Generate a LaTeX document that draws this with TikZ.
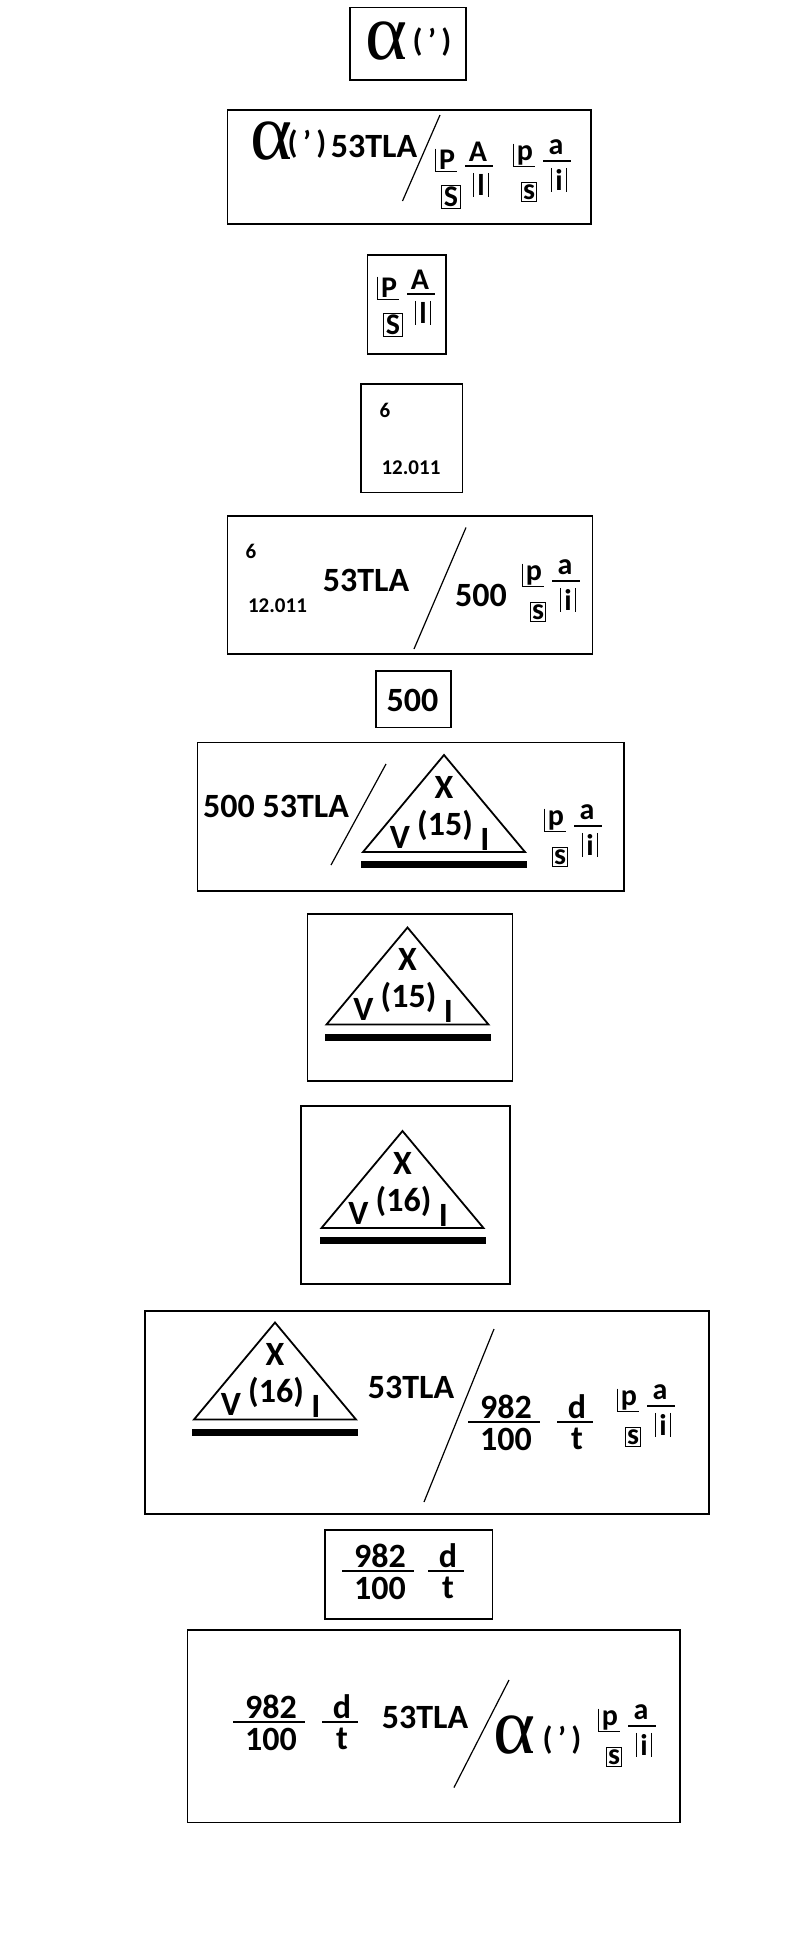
\documentclass[tikz,border=0pt]{standalone}
\usepackage{fontspec}
\setmainfont{Carlito}
\newfontfamily\serif{Liberation Serif}
\begin{document}
\begin{tikzpicture}[x=0.5pt,y=-0.5pt,
  bx/.style={draw,line width=0.8pt},
  t/.style={inner sep=0pt,font=\fontsize{17}{18}\selectfont\bfseries},
  gl/.style={inner sep=0.6pt,font=\fontsize{15}{16}\selectfont\bfseries},
  sm/.style={inner sep=0pt,font=\fontsize{10.5}{12}\selectfont\bfseries},
  al/.style={inner sep=0pt,font=\fontsize{40}{42}\selectfont\serif},
  pr/.style={inner sep=0pt,font=\fontsize{16}{18}\selectfont\bfseries},
  sl/.style={line width=0.6pt}]
\useasboundingbox (0,0) rectangle (800,1960);
\newcommand\mygrp[7]{%
  \node[gl] (#1p) at (#2,#3) {#4};
  \draw[line width=0.5pt] ([xshift=-1pt]#1p.north west) |- (#1p.south east);
  \node[gl,draw,line width=0.5pt,inner sep=1pt] (#1s) at (#2+4,#3+37) {#5};
  \node[gl] (#1a) at (#2+31,#3-8) {#6};
  \draw[line width=0.6pt] (#2+18,#3+6) -- (#2+46,#3+6);
  \node[gl] (#1i) at (#2+34,#3+25) {#7};
  \draw[line width=0.5pt] ([xshift=-1pt]#1i.north west) -- ([xshift=-1pt]#1i.south west)
     ([xshift=1pt]#1i.north east) -- ([xshift=1pt]#1i.south east);}
\newcommand\mytri[4]{%
  \coordinate (#1) at (#2,#3);
  \draw[line width=0.9pt] (#1) -- (#2+81,#3+97) -- (#2-81,#3+97) -- cycle;
  \fill (#2-83,#3+106) rectangle (#2+83,#3+113);
  \node[t] (#1x) at (#2,#3+32) {X};
  \node[t] (#1v) at (#2-44,#3+82) {V};
  \node[t] (#1n) at (#2+1,#3+70) {(#4)};
  \node[t] (#1l) at (#2+41,#3+84) {I};}
\newcommand\myfr[6]{%
  \node[t] (#1n) at (#2,#3-15) {#4};
  \node[t] (#1d) at (#2,#3+17) {#5};
  \draw[line width=0.6pt] (#2-#6,#3) -- (#2+#6-4,#3);}
% box 1
\draw[bx] (350,7.5) rectangle (466,80);
\node[al] (a1) at (386,41) {α};
\node[pr] (q1) at (432,42) {(\,'\,)};
% box 2
\draw[bx] (227.5,110) rectangle (591,224);
\node[al] (a2) at (271,141) {α};
\node[pr] (q2) at (307,144) {(\,'\,)};
\node[t] (w2) at (374,146) {53TLA};
\draw[sl] (440,115) -- (402.5,201);
\mygrp{g2a}{447}{160}{P}{S}{A}{l}
\mygrp{g2b}{525}{155}{p}{s}{a}{i}
% box 3
\draw[bx] (367.5,255) rectangle (446,354);
\mygrp{g3}{389}{288}{P}{S}{A}{l}
% box 4
\draw[bx] (361,384) rectangle (462.5,492.5);
\node[sm] (s4) at (385,410) {6};
\node[sm] (m4) at (411,467.5) {12.011};
% box 5
\draw[bx] (227.5,516) rectangle (592.5,654);
\node[sm] (s5) at (251,551) {6};
\node[sm] (m5) at (277.5,606) {12.011};
\node[t] (w5) at (366,580) {53TLA};
\draw[sl] (466,527.5) -- (414,649);
\node[t] (f5) at (481,595) {500};
\mygrp{g5}{534}{575}{p}{s}{a}{i}
% box 6
\draw[bx] (376,671) rectangle (451,727.5);
\node[t] (f6) at (412.5,700) {500};
% box 7
\draw[bx] (197.5,742.5) rectangle (624,891);
\node[t] (w7) at (276,806) {500 53TLA};
\draw[sl] (386,764) -- (331,865);
\mytri{t7}{444}{755}{15}
\mygrp{g7}{556}{820}{p}{s}{a}{i}
% box 8
\draw[bx] (307.5,914) rectangle (512.5,1081);
\mytri{t8}{407.5}{927.5}{15}
% box 9
\draw[bx] (301,1106) rectangle (510,1284);
\mytri{t9}{402.5}{1131}{16}
% box 10
\draw[bx] (145,1311) rectangle (709,1514);
\mytri{t10}{275}{1322.5}{16}
\node[t] (w10) at (411,1387.5) {53TLA};
\draw[sl] (494,1329) -- (424,1502);
\myfr{r10}{506}{1422}{982}{100}{38}
\myfr{d10}{577}{1422}{d}{t}{20}
\mygrp{g10}{629}{1400}{p}{s}{a}{i}
% box 11
\draw[bx] (325,1530) rectangle (492.5,1619);
\myfr{r11}{380}{1571}{982}{100}{38}
\myfr{d11}{448}{1571}{d}{t}{20}
% box 12
\draw[bx] (187.5,1630) rectangle (680,1822.5);
\myfr{r12}{271}{1722}{982}{100}{38}
\myfr{d12}{342}{1722}{d}{t}{20}
\node[t] (w12) at (425,1717) {53TLA};
\draw[sl] (509,1680) -- (454,1787.5);
\node[al] (a12) at (514,1735) {α};
\node[pr] (q12) at (562,1740) {(\,'\,)};
\mygrp{g12}{610}{1720}{p}{s}{a}{i}
\end{tikzpicture}
\end{document}
